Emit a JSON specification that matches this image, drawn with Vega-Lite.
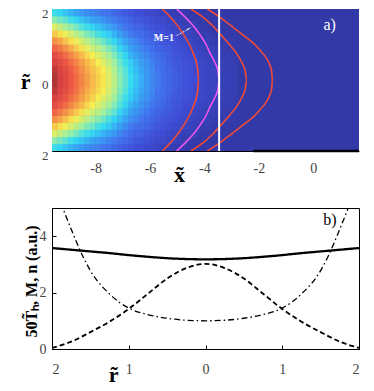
{
  "$schema": "https://vega.github.io/schema/vega-lite/v6.json",
  "padding": {"left": 20, "top": 7, "right": 5, "bottom": 5},
  "background": "white",
  "config": {"font": "Liberation Serif", "axis": {"grid": false}},
  "datasets": {
    "heat": [
      {"x":-9.5,"r":-1.9,"v":0.41},{"x":-9.5,"r":-1.7,"v":0.48},{"x":-9.5,"r":-1.5,"v":0.57},{"x":-9.5,"r":-1.3,"v":0.65},{"x":-9.5,"r":-1.1,"v":0.73},{"x":-9.5,"r":-0.9,"v":0.80},{"x":-9.5,"r":-0.7,"v":0.87},{"x":-9.5,"r":-0.5,"v":0.92},{"x":-9.5,"r":-0.3,"v":0.96},{"x":-9.5,"r":-0.1,"v":0.98},{"x":-9.5,"r":0.1,"v":0.98},{"x":-9.5,"r":0.3,"v":0.96},{"x":-9.5,"r":0.5,"v":0.92},{"x":-9.5,"r":0.7,"v":0.87},{"x":-9.5,"r":0.9,"v":0.80},{"x":-9.5,"r":1.1,"v":0.73},{"x":-9.5,"r":1.3,"v":0.65},{"x":-9.5,"r":1.5,"v":0.57},{"x":-9.5,"r":1.7,"v":0.48},{"x":-9.5,"r":1.9,"v":0.41},
      {"x":-9.3,"r":-1.9,"v":0.39},{"x":-9.3,"r":-1.7,"v":0.46},{"x":-9.3,"r":-1.5,"v":0.54},{"x":-9.3,"r":-1.3,"v":0.62},{"x":-9.3,"r":-1.1,"v":0.70},{"x":-9.3,"r":-0.9,"v":0.77},{"x":-9.3,"r":-0.7,"v":0.83},{"x":-9.3,"r":-0.5,"v":0.88},{"x":-9.3,"r":-0.3,"v":0.91},{"x":-9.3,"r":-0.1,"v":0.93},{"x":-9.3,"r":0.1,"v":0.93},{"x":-9.3,"r":0.3,"v":0.91},{"x":-9.3,"r":0.5,"v":0.88},{"x":-9.3,"r":0.7,"v":0.83},{"x":-9.3,"r":0.9,"v":0.77},{"x":-9.3,"r":1.1,"v":0.70},{"x":-9.3,"r":1.3,"v":0.62},{"x":-9.3,"r":1.5,"v":0.54},{"x":-9.3,"r":1.7,"v":0.46},{"x":-9.3,"r":1.9,"v":0.39},
      {"x":-9.1,"r":-1.9,"v":0.37},{"x":-9.1,"r":-1.7,"v":0.44},{"x":-9.1,"r":-1.5,"v":0.51},{"x":-9.1,"r":-1.3,"v":0.59},{"x":-9.1,"r":-1.1,"v":0.66},{"x":-9.1,"r":-0.9,"v":0.73},{"x":-9.1,"r":-0.7,"v":0.79},{"x":-9.1,"r":-0.5,"v":0.84},{"x":-9.1,"r":-0.3,"v":0.87},{"x":-9.1,"r":-0.1,"v":0.89},{"x":-9.1,"r":0.1,"v":0.89},{"x":-9.1,"r":0.3,"v":0.87},{"x":-9.1,"r":0.5,"v":0.84},{"x":-9.1,"r":0.7,"v":0.79},{"x":-9.1,"r":0.9,"v":0.73},{"x":-9.1,"r":1.1,"v":0.66},{"x":-9.1,"r":1.3,"v":0.59},{"x":-9.1,"r":1.5,"v":0.51},{"x":-9.1,"r":1.7,"v":0.44},{"x":-9.1,"r":1.9,"v":0.37},
      {"x":-8.9,"r":-1.9,"v":0.35},{"x":-8.9,"r":-1.7,"v":0.41},{"x":-8.9,"r":-1.5,"v":0.49},{"x":-8.9,"r":-1.3,"v":0.56},{"x":-8.9,"r":-1.1,"v":0.62},{"x":-8.9,"r":-0.9,"v":0.69},{"x":-8.9,"r":-0.7,"v":0.75},{"x":-8.9,"r":-0.5,"v":0.79},{"x":-8.9,"r":-0.3,"v":0.82},{"x":-8.9,"r":-0.1,"v":0.84},{"x":-8.9,"r":0.1,"v":0.84},{"x":-8.9,"r":0.3,"v":0.82},{"x":-8.9,"r":0.5,"v":0.79},{"x":-8.9,"r":0.7,"v":0.75},{"x":-8.9,"r":0.9,"v":0.69},{"x":-8.9,"r":1.1,"v":0.62},{"x":-8.9,"r":1.3,"v":0.56},{"x":-8.9,"r":1.5,"v":0.49},{"x":-8.9,"r":1.7,"v":0.41},{"x":-8.9,"r":1.9,"v":0.35},
      {"x":-8.7,"r":-1.9,"v":0.33},{"x":-8.7,"r":-1.7,"v":0.39},{"x":-8.7,"r":-1.5,"v":0.46},{"x":-8.7,"r":-1.3,"v":0.53},{"x":-8.7,"r":-1.1,"v":0.59},{"x":-8.7,"r":-0.9,"v":0.65},{"x":-8.7,"r":-0.7,"v":0.71},{"x":-8.7,"r":-0.5,"v":0.75},{"x":-8.7,"r":-0.3,"v":0.78},{"x":-8.7,"r":-0.1,"v":0.79},{"x":-8.7,"r":0.1,"v":0.79},{"x":-8.7,"r":0.3,"v":0.78},{"x":-8.7,"r":0.5,"v":0.75},{"x":-8.7,"r":0.7,"v":0.71},{"x":-8.7,"r":0.9,"v":0.65},{"x":-8.7,"r":1.1,"v":0.59},{"x":-8.7,"r":1.3,"v":0.53},{"x":-8.7,"r":1.5,"v":0.46},{"x":-8.7,"r":1.7,"v":0.39},{"x":-8.7,"r":1.9,"v":0.33},
      {"x":-8.5,"r":-1.9,"v":0.31},{"x":-8.5,"r":-1.7,"v":0.37},{"x":-8.5,"r":-1.5,"v":0.43},{"x":-8.5,"r":-1.3,"v":0.50},{"x":-8.5,"r":-1.1,"v":0.56},{"x":-8.5,"r":-0.9,"v":0.62},{"x":-8.5,"r":-0.7,"v":0.67},{"x":-8.5,"r":-0.5,"v":0.71},{"x":-8.5,"r":-0.3,"v":0.73},{"x":-8.5,"r":-0.1,"v":0.75},{"x":-8.5,"r":0.1,"v":0.75},{"x":-8.5,"r":0.3,"v":0.73},{"x":-8.5,"r":0.5,"v":0.71},{"x":-8.5,"r":0.7,"v":0.67},{"x":-8.5,"r":0.9,"v":0.62},{"x":-8.5,"r":1.1,"v":0.56},{"x":-8.5,"r":1.3,"v":0.50},{"x":-8.5,"r":1.5,"v":0.43},{"x":-8.5,"r":1.7,"v":0.37},{"x":-8.5,"r":1.9,"v":0.31},
      {"x":-8.3,"r":-1.9,"v":0.29},{"x":-8.3,"r":-1.7,"v":0.35},{"x":-8.3,"r":-1.5,"v":0.41},{"x":-8.3,"r":-1.3,"v":0.47},{"x":-8.3,"r":-1.1,"v":0.53},{"x":-8.3,"r":-0.9,"v":0.58},{"x":-8.3,"r":-0.7,"v":0.63},{"x":-8.3,"r":-0.5,"v":0.67},{"x":-8.3,"r":-0.3,"v":0.69},{"x":-8.3,"r":-0.1,"v":0.71},{"x":-8.3,"r":0.1,"v":0.71},{"x":-8.3,"r":0.3,"v":0.69},{"x":-8.3,"r":0.5,"v":0.67},{"x":-8.3,"r":0.7,"v":0.63},{"x":-8.3,"r":0.9,"v":0.58},{"x":-8.3,"r":1.1,"v":0.53},{"x":-8.3,"r":1.3,"v":0.47},{"x":-8.3,"r":1.5,"v":0.41},{"x":-8.3,"r":1.7,"v":0.35},{"x":-8.3,"r":1.9,"v":0.29},
      {"x":-8.1,"r":-1.9,"v":0.28},{"x":-8.1,"r":-1.7,"v":0.33},{"x":-8.1,"r":-1.5,"v":0.39},{"x":-8.1,"r":-1.3,"v":0.45},{"x":-8.1,"r":-1.1,"v":0.50},{"x":-8.1,"r":-0.9,"v":0.55},{"x":-8.1,"r":-0.7,"v":0.60},{"x":-8.1,"r":-0.5,"v":0.64},{"x":-8.1,"r":-0.3,"v":0.66},{"x":-8.1,"r":-0.1,"v":0.67},{"x":-8.1,"r":0.1,"v":0.67},{"x":-8.1,"r":0.3,"v":0.66},{"x":-8.1,"r":0.5,"v":0.64},{"x":-8.1,"r":0.7,"v":0.60},{"x":-8.1,"r":0.9,"v":0.55},{"x":-8.1,"r":1.1,"v":0.50},{"x":-8.1,"r":1.3,"v":0.45},{"x":-8.1,"r":1.5,"v":0.39},{"x":-8.1,"r":1.7,"v":0.33},{"x":-8.1,"r":1.9,"v":0.28},
      {"x":-7.9,"r":-1.9,"v":0.27},{"x":-7.9,"r":-1.7,"v":0.32},{"x":-7.9,"r":-1.5,"v":0.37},{"x":-7.9,"r":-1.3,"v":0.42},{"x":-7.9,"r":-1.1,"v":0.48},{"x":-7.9,"r":-0.9,"v":0.53},{"x":-7.9,"r":-0.7,"v":0.57},{"x":-7.9,"r":-0.5,"v":0.60},{"x":-7.9,"r":-0.3,"v":0.63},{"x":-7.9,"r":-0.1,"v":0.64},{"x":-7.9,"r":0.1,"v":0.64},{"x":-7.9,"r":0.3,"v":0.63},{"x":-7.9,"r":0.5,"v":0.60},{"x":-7.9,"r":0.7,"v":0.57},{"x":-7.9,"r":0.9,"v":0.53},{"x":-7.9,"r":1.1,"v":0.48},{"x":-7.9,"r":1.3,"v":0.42},{"x":-7.9,"r":1.5,"v":0.37},{"x":-7.9,"r":1.7,"v":0.32},{"x":-7.9,"r":1.9,"v":0.27},
      {"x":-7.7,"r":-1.9,"v":0.25},{"x":-7.7,"r":-1.7,"v":0.30},{"x":-7.7,"r":-1.5,"v":0.35},{"x":-7.7,"r":-1.3,"v":0.40},{"x":-7.7,"r":-1.1,"v":0.45},{"x":-7.7,"r":-0.9,"v":0.50},{"x":-7.7,"r":-0.7,"v":0.54},{"x":-7.7,"r":-0.5,"v":0.57},{"x":-7.7,"r":-0.3,"v":0.60},{"x":-7.7,"r":-0.1,"v":0.61},{"x":-7.7,"r":0.1,"v":0.61},{"x":-7.7,"r":0.3,"v":0.60},{"x":-7.7,"r":0.5,"v":0.57},{"x":-7.7,"r":0.7,"v":0.54},{"x":-7.7,"r":0.9,"v":0.50},{"x":-7.7,"r":1.1,"v":0.45},{"x":-7.7,"r":1.3,"v":0.40},{"x":-7.7,"r":1.5,"v":0.35},{"x":-7.7,"r":1.7,"v":0.30},{"x":-7.7,"r":1.9,"v":0.25},
      {"x":-7.5,"r":-1.9,"v":0.24},{"x":-7.5,"r":-1.7,"v":0.28},{"x":-7.5,"r":-1.5,"v":0.33},{"x":-7.5,"r":-1.3,"v":0.38},{"x":-7.5,"r":-1.1,"v":0.42},{"x":-7.5,"r":-0.9,"v":0.47},{"x":-7.5,"r":-0.7,"v":0.51},{"x":-7.5,"r":-0.5,"v":0.54},{"x":-7.5,"r":-0.3,"v":0.56},{"x":-7.5,"r":-0.1,"v":0.57},{"x":-7.5,"r":0.1,"v":0.57},{"x":-7.5,"r":0.3,"v":0.56},{"x":-7.5,"r":0.5,"v":0.54},{"x":-7.5,"r":0.7,"v":0.51},{"x":-7.5,"r":0.9,"v":0.47},{"x":-7.5,"r":1.1,"v":0.42},{"x":-7.5,"r":1.3,"v":0.38},{"x":-7.5,"r":1.5,"v":0.33},{"x":-7.5,"r":1.7,"v":0.28},{"x":-7.5,"r":1.9,"v":0.24},
      {"x":-7.3,"r":-1.9,"v":0.22},{"x":-7.3,"r":-1.7,"v":0.26},{"x":-7.3,"r":-1.5,"v":0.31},{"x":-7.3,"r":-1.3,"v":0.35},{"x":-7.3,"r":-1.1,"v":0.39},{"x":-7.3,"r":-0.9,"v":0.44},{"x":-7.3,"r":-0.7,"v":0.47},{"x":-7.3,"r":-0.5,"v":0.50},{"x":-7.3,"r":-0.3,"v":0.52},{"x":-7.3,"r":-0.1,"v":0.53},{"x":-7.3,"r":0.1,"v":0.53},{"x":-7.3,"r":0.3,"v":0.52},{"x":-7.3,"r":0.5,"v":0.50},{"x":-7.3,"r":0.7,"v":0.47},{"x":-7.3,"r":0.9,"v":0.44},{"x":-7.3,"r":1.1,"v":0.39},{"x":-7.3,"r":1.3,"v":0.35},{"x":-7.3,"r":1.5,"v":0.31},{"x":-7.3,"r":1.7,"v":0.26},{"x":-7.3,"r":1.9,"v":0.22},
      {"x":-7.1,"r":-1.9,"v":0.20},{"x":-7.1,"r":-1.7,"v":0.24},{"x":-7.1,"r":-1.5,"v":0.28},{"x":-7.1,"r":-1.3,"v":0.32},{"x":-7.1,"r":-1.1,"v":0.36},{"x":-7.1,"r":-0.9,"v":0.39},{"x":-7.1,"r":-0.7,"v":0.43},{"x":-7.1,"r":-0.5,"v":0.45},{"x":-7.1,"r":-0.3,"v":0.47},{"x":-7.1,"r":-0.1,"v":0.48},{"x":-7.1,"r":0.1,"v":0.48},{"x":-7.1,"r":0.3,"v":0.47},{"x":-7.1,"r":0.5,"v":0.45},{"x":-7.1,"r":0.7,"v":0.43},{"x":-7.1,"r":0.9,"v":0.39},{"x":-7.1,"r":1.1,"v":0.36},{"x":-7.1,"r":1.3,"v":0.32},{"x":-7.1,"r":1.5,"v":0.28},{"x":-7.1,"r":1.7,"v":0.24},{"x":-7.1,"r":1.9,"v":0.20},
      {"x":-6.9,"r":-1.9,"v":0.18},{"x":-6.9,"r":-1.7,"v":0.22},{"x":-6.9,"r":-1.5,"v":0.25},{"x":-6.9,"r":-1.3,"v":0.29},{"x":-6.9,"r":-1.1,"v":0.33},{"x":-6.9,"r":-0.9,"v":0.36},{"x":-6.9,"r":-0.7,"v":0.39},{"x":-6.9,"r":-0.5,"v":0.41},{"x":-6.9,"r":-0.3,"v":0.43},{"x":-6.9,"r":-0.1,"v":0.44},{"x":-6.9,"r":0.1,"v":0.44},{"x":-6.9,"r":0.3,"v":0.43},{"x":-6.9,"r":0.5,"v":0.41},{"x":-6.9,"r":0.7,"v":0.39},{"x":-6.9,"r":0.9,"v":0.36},{"x":-6.9,"r":1.1,"v":0.33},{"x":-6.9,"r":1.3,"v":0.29},{"x":-6.9,"r":1.5,"v":0.25},{"x":-6.9,"r":1.7,"v":0.22},{"x":-6.9,"r":1.9,"v":0.18},
      {"x":-6.7,"r":-1.9,"v":0.17},{"x":-6.7,"r":-1.7,"v":0.20},{"x":-6.7,"r":-1.5,"v":0.23},{"x":-6.7,"r":-1.3,"v":0.26},{"x":-6.7,"r":-1.1,"v":0.30},{"x":-6.7,"r":-0.9,"v":0.33},{"x":-6.7,"r":-0.7,"v":0.35},{"x":-6.7,"r":-0.5,"v":0.38},{"x":-6.7,"r":-0.3,"v":0.39},{"x":-6.7,"r":-0.1,"v":0.40},{"x":-6.7,"r":0.1,"v":0.40},{"x":-6.7,"r":0.3,"v":0.39},{"x":-6.7,"r":0.5,"v":0.38},{"x":-6.7,"r":0.7,"v":0.35},{"x":-6.7,"r":0.9,"v":0.33},{"x":-6.7,"r":1.1,"v":0.30},{"x":-6.7,"r":1.3,"v":0.26},{"x":-6.7,"r":1.5,"v":0.23},{"x":-6.7,"r":1.7,"v":0.20},{"x":-6.7,"r":1.9,"v":0.17},
      {"x":-6.5,"r":-1.9,"v":0.15},{"x":-6.5,"r":-1.7,"v":0.18},{"x":-6.5,"r":-1.5,"v":0.21},{"x":-6.5,"r":-1.3,"v":0.24},{"x":-6.5,"r":-1.1,"v":0.28},{"x":-6.5,"r":-0.9,"v":0.30},{"x":-6.5,"r":-0.7,"v":0.33},{"x":-6.5,"r":-0.5,"v":0.35},{"x":-6.5,"r":-0.3,"v":0.36},{"x":-6.5,"r":-0.1,"v":0.37},{"x":-6.5,"r":0.1,"v":0.37},{"x":-6.5,"r":0.3,"v":0.36},{"x":-6.5,"r":0.5,"v":0.35},{"x":-6.5,"r":0.7,"v":0.33},{"x":-6.5,"r":0.9,"v":0.30},{"x":-6.5,"r":1.1,"v":0.28},{"x":-6.5,"r":1.3,"v":0.24},{"x":-6.5,"r":1.5,"v":0.21},{"x":-6.5,"r":1.7,"v":0.18},{"x":-6.5,"r":1.9,"v":0.15},
      {"x":-6.3,"r":-1.9,"v":0.14},{"x":-6.3,"r":-1.7,"v":0.17},{"x":-6.3,"r":-1.5,"v":0.20},{"x":-6.3,"r":-1.3,"v":0.23},{"x":-6.3,"r":-1.1,"v":0.25},{"x":-6.3,"r":-0.9,"v":0.28},{"x":-6.3,"r":-0.7,"v":0.30},{"x":-6.3,"r":-0.5,"v":0.32},{"x":-6.3,"r":-0.3,"v":0.33},{"x":-6.3,"r":-0.1,"v":0.34},{"x":-6.3,"r":0.1,"v":0.34},{"x":-6.3,"r":0.3,"v":0.33},{"x":-6.3,"r":0.5,"v":0.32},{"x":-6.3,"r":0.7,"v":0.30},{"x":-6.3,"r":0.9,"v":0.28},{"x":-6.3,"r":1.1,"v":0.25},{"x":-6.3,"r":1.3,"v":0.23},{"x":-6.3,"r":1.5,"v":0.20},{"x":-6.3,"r":1.7,"v":0.17},{"x":-6.3,"r":1.9,"v":0.14},
      {"x":-6.1,"r":-1.9,"v":0.13},{"x":-6.1,"r":-1.7,"v":0.16},{"x":-6.1,"r":-1.5,"v":0.18},{"x":-6.1,"r":-1.3,"v":0.21},{"x":-6.1,"r":-1.1,"v":0.23},{"x":-6.1,"r":-0.9,"v":0.26},{"x":-6.1,"r":-0.7,"v":0.28},{"x":-6.1,"r":-0.5,"v":0.30},{"x":-6.1,"r":-0.3,"v":0.31},{"x":-6.1,"r":-0.1,"v":0.31},{"x":-6.1,"r":0.1,"v":0.31},{"x":-6.1,"r":0.3,"v":0.31},{"x":-6.1,"r":0.5,"v":0.30},{"x":-6.1,"r":0.7,"v":0.28},{"x":-6.1,"r":0.9,"v":0.26},{"x":-6.1,"r":1.1,"v":0.23},{"x":-6.1,"r":1.3,"v":0.21},{"x":-6.1,"r":1.5,"v":0.18},{"x":-6.1,"r":1.7,"v":0.16},{"x":-6.1,"r":1.9,"v":0.13},
      {"x":-5.9,"r":-1.9,"v":0.12},{"x":-5.9,"r":-1.7,"v":0.14},{"x":-5.9,"r":-1.5,"v":0.16},{"x":-5.9,"r":-1.3,"v":0.19},{"x":-5.9,"r":-1.1,"v":0.21},{"x":-5.9,"r":-0.9,"v":0.23},{"x":-5.9,"r":-0.7,"v":0.25},{"x":-5.9,"r":-0.5,"v":0.27},{"x":-5.9,"r":-0.3,"v":0.28},{"x":-5.9,"r":-0.1,"v":0.28},{"x":-5.9,"r":0.1,"v":0.28},{"x":-5.9,"r":0.3,"v":0.28},{"x":-5.9,"r":0.5,"v":0.27},{"x":-5.9,"r":0.7,"v":0.25},{"x":-5.9,"r":0.9,"v":0.23},{"x":-5.9,"r":1.1,"v":0.21},{"x":-5.9,"r":1.3,"v":0.19},{"x":-5.9,"r":1.5,"v":0.16},{"x":-5.9,"r":1.7,"v":0.14},{"x":-5.9,"r":1.9,"v":0.12},
      {"x":-5.7,"r":-1.9,"v":0.11},{"x":-5.7,"r":-1.7,"v":0.13},{"x":-5.7,"r":-1.5,"v":0.15},{"x":-5.7,"r":-1.3,"v":0.17},{"x":-5.7,"r":-1.1,"v":0.19},{"x":-5.7,"r":-0.9,"v":0.21},{"x":-5.7,"r":-0.7,"v":0.23},{"x":-5.7,"r":-0.5,"v":0.24},{"x":-5.7,"r":-0.3,"v":0.25},{"x":-5.7,"r":-0.1,"v":0.26},{"x":-5.7,"r":0.1,"v":0.26},{"x":-5.7,"r":0.3,"v":0.25},{"x":-5.7,"r":0.5,"v":0.24},{"x":-5.7,"r":0.7,"v":0.23},{"x":-5.7,"r":0.9,"v":0.21},{"x":-5.7,"r":1.1,"v":0.19},{"x":-5.7,"r":1.3,"v":0.17},{"x":-5.7,"r":1.5,"v":0.15},{"x":-5.7,"r":1.7,"v":0.13},{"x":-5.7,"r":1.9,"v":0.11},
      {"x":-5.5,"r":-1.9,"v":0.10},{"x":-5.5,"r":-1.7,"v":0.12},{"x":-5.5,"r":-1.5,"v":0.14},{"x":-5.5,"r":-1.3,"v":0.16},{"x":-5.5,"r":-1.1,"v":0.17},{"x":-5.5,"r":-0.9,"v":0.19},{"x":-5.5,"r":-0.7,"v":0.21},{"x":-5.5,"r":-0.5,"v":0.22},{"x":-5.5,"r":-0.3,"v":0.23},{"x":-5.5,"r":-0.1,"v":0.23},{"x":-5.5,"r":0.1,"v":0.23},{"x":-5.5,"r":0.3,"v":0.23},{"x":-5.5,"r":0.5,"v":0.22},{"x":-5.5,"r":0.7,"v":0.21},{"x":-5.5,"r":0.9,"v":0.19},{"x":-5.5,"r":1.1,"v":0.17},{"x":-5.5,"r":1.3,"v":0.16},{"x":-5.5,"r":1.5,"v":0.14},{"x":-5.5,"r":1.7,"v":0.12},{"x":-5.5,"r":1.9,"v":0.10},
      {"x":-5.3,"r":-1.9,"v":0.09},{"x":-5.3,"r":-1.7,"v":0.11},{"x":-5.3,"r":-1.5,"v":0.12},{"x":-5.3,"r":-1.3,"v":0.14},{"x":-5.3,"r":-1.1,"v":0.16},{"x":-5.3,"r":-0.9,"v":0.18},{"x":-5.3,"r":-0.7,"v":0.19},{"x":-5.3,"r":-0.5,"v":0.20},{"x":-5.3,"r":-0.3,"v":0.21},{"x":-5.3,"r":-0.1,"v":0.21},{"x":-5.3,"r":0.1,"v":0.21},{"x":-5.3,"r":0.3,"v":0.21},{"x":-5.3,"r":0.5,"v":0.20},{"x":-5.3,"r":0.7,"v":0.19},{"x":-5.3,"r":0.9,"v":0.18},{"x":-5.3,"r":1.1,"v":0.16},{"x":-5.3,"r":1.3,"v":0.14},{"x":-5.3,"r":1.5,"v":0.12},{"x":-5.3,"r":1.7,"v":0.11},{"x":-5.3,"r":1.9,"v":0.09},
      {"x":-5.1,"r":-1.9,"v":0.08},{"x":-5.1,"r":-1.7,"v":0.10},{"x":-5.1,"r":-1.5,"v":0.11},{"x":-5.1,"r":-1.3,"v":0.13},{"x":-5.1,"r":-1.1,"v":0.15},{"x":-5.1,"r":-0.9,"v":0.16},{"x":-5.1,"r":-0.7,"v":0.17},{"x":-5.1,"r":-0.5,"v":0.18},{"x":-5.1,"r":-0.3,"v":0.19},{"x":-5.1,"r":-0.1,"v":0.19},{"x":-5.1,"r":0.1,"v":0.19},{"x":-5.1,"r":0.3,"v":0.19},{"x":-5.1,"r":0.5,"v":0.18},{"x":-5.1,"r":0.7,"v":0.17},{"x":-5.1,"r":0.9,"v":0.16},{"x":-5.1,"r":1.1,"v":0.15},{"x":-5.1,"r":1.3,"v":0.13},{"x":-5.1,"r":1.5,"v":0.11},{"x":-5.1,"r":1.7,"v":0.10},{"x":-5.1,"r":1.9,"v":0.08},
      {"x":-4.9,"r":-1.9,"v":0.07},{"x":-4.9,"r":-1.7,"v":0.09},{"x":-4.9,"r":-1.5,"v":0.10},{"x":-4.9,"r":-1.3,"v":0.12},{"x":-4.9,"r":-1.1,"v":0.13},{"x":-4.9,"r":-0.9,"v":0.15},{"x":-4.9,"r":-0.7,"v":0.16},{"x":-4.9,"r":-0.5,"v":0.17},{"x":-4.9,"r":-0.3,"v":0.17},{"x":-4.9,"r":-0.1,"v":0.18},{"x":-4.9,"r":0.1,"v":0.18},{"x":-4.9,"r":0.3,"v":0.17},{"x":-4.9,"r":0.5,"v":0.17},{"x":-4.9,"r":0.7,"v":0.16},{"x":-4.9,"r":0.9,"v":0.15},{"x":-4.9,"r":1.1,"v":0.13},{"x":-4.9,"r":1.3,"v":0.12},{"x":-4.9,"r":1.5,"v":0.10},{"x":-4.9,"r":1.7,"v":0.09},{"x":-4.9,"r":1.9,"v":0.07},
      {"x":-4.7,"r":-1.9,"v":0.07},{"x":-4.7,"r":-1.7,"v":0.08},{"x":-4.7,"r":-1.5,"v":0.09},{"x":-4.7,"r":-1.3,"v":0.11},{"x":-4.7,"r":-1.1,"v":0.12},{"x":-4.7,"r":-0.9,"v":0.13},{"x":-4.7,"r":-0.7,"v":0.14},{"x":-4.7,"r":-0.5,"v":0.15},{"x":-4.7,"r":-0.3,"v":0.16},{"x":-4.7,"r":-0.1,"v":0.16},{"x":-4.7,"r":0.1,"v":0.16},{"x":-4.7,"r":0.3,"v":0.16},{"x":-4.7,"r":0.5,"v":0.15},{"x":-4.7,"r":0.7,"v":0.14},{"x":-4.7,"r":0.9,"v":0.13},{"x":-4.7,"r":1.1,"v":0.12},{"x":-4.7,"r":1.3,"v":0.11},{"x":-4.7,"r":1.5,"v":0.09},{"x":-4.7,"r":1.7,"v":0.08},{"x":-4.7,"r":1.9,"v":0.07},
      {"x":-4.5,"r":-1.9,"v":0.06},{"x":-4.5,"r":-1.7,"v":0.07},{"x":-4.5,"r":-1.5,"v":0.09},{"x":-4.5,"r":-1.3,"v":0.10},{"x":-4.5,"r":-1.1,"v":0.11},{"x":-4.5,"r":-0.9,"v":0.12},{"x":-4.5,"r":-0.7,"v":0.13},{"x":-4.5,"r":-0.5,"v":0.14},{"x":-4.5,"r":-0.3,"v":0.15},{"x":-4.5,"r":-0.1,"v":0.15},{"x":-4.5,"r":0.1,"v":0.15},{"x":-4.5,"r":0.3,"v":0.15},{"x":-4.5,"r":0.5,"v":0.14},{"x":-4.5,"r":0.7,"v":0.13},{"x":-4.5,"r":0.9,"v":0.12},{"x":-4.5,"r":1.1,"v":0.11},{"x":-4.5,"r":1.3,"v":0.10},{"x":-4.5,"r":1.5,"v":0.09},{"x":-4.5,"r":1.7,"v":0.07},{"x":-4.5,"r":1.9,"v":0.06},
      {"x":-4.3,"r":-1.9,"v":0.06},{"x":-4.3,"r":-1.7,"v":0.07},{"x":-4.3,"r":-1.5,"v":0.08},{"x":-4.3,"r":-1.3,"v":0.09},{"x":-4.3,"r":-1.1,"v":0.10},{"x":-4.3,"r":-0.9,"v":0.11},{"x":-4.3,"r":-0.7,"v":0.12},{"x":-4.3,"r":-0.5,"v":0.13},{"x":-4.3,"r":-0.3,"v":0.13},{"x":-4.3,"r":-0.1,"v":0.14},{"x":-4.3,"r":0.1,"v":0.14},{"x":-4.3,"r":0.3,"v":0.13},{"x":-4.3,"r":0.5,"v":0.13},{"x":-4.3,"r":0.7,"v":0.12},{"x":-4.3,"r":0.9,"v":0.11},{"x":-4.3,"r":1.1,"v":0.10},{"x":-4.3,"r":1.3,"v":0.09},{"x":-4.3,"r":1.5,"v":0.08},{"x":-4.3,"r":1.7,"v":0.07},{"x":-4.3,"r":1.9,"v":0.06},
      {"x":-4.1,"r":-1.9,"v":0.05},{"x":-4.1,"r":-1.7,"v":0.06},{"x":-4.1,"r":-1.5,"v":0.07},{"x":-4.1,"r":-1.3,"v":0.08},{"x":-4.1,"r":-1.1,"v":0.09},{"x":-4.1,"r":-0.9,"v":0.10},{"x":-4.1,"r":-0.7,"v":0.11},{"x":-4.1,"r":-0.5,"v":0.12},{"x":-4.1,"r":-0.3,"v":0.12},{"x":-4.1,"r":-0.1,"v":0.12},{"x":-4.1,"r":0.1,"v":0.12},{"x":-4.1,"r":0.3,"v":0.12},{"x":-4.1,"r":0.5,"v":0.12},{"x":-4.1,"r":0.7,"v":0.11},{"x":-4.1,"r":0.9,"v":0.10},{"x":-4.1,"r":1.1,"v":0.09},{"x":-4.1,"r":1.3,"v":0.08},{"x":-4.1,"r":1.5,"v":0.07},{"x":-4.1,"r":1.7,"v":0.06},{"x":-4.1,"r":1.9,"v":0.05},
      {"x":-3.9,"r":-1.9,"v":0.05},{"x":-3.9,"r":-1.7,"v":0.06},{"x":-3.9,"r":-1.5,"v":0.07},{"x":-3.9,"r":-1.3,"v":0.08},{"x":-3.9,"r":-1.1,"v":0.09},{"x":-3.9,"r":-0.9,"v":0.09},{"x":-3.9,"r":-0.7,"v":0.10},{"x":-3.9,"r":-0.5,"v":0.11},{"x":-3.9,"r":-0.3,"v":0.11},{"x":-3.9,"r":-0.1,"v":0.11},{"x":-3.9,"r":0.1,"v":0.11},{"x":-3.9,"r":0.3,"v":0.11},{"x":-3.9,"r":0.5,"v":0.11},{"x":-3.9,"r":0.7,"v":0.10},{"x":-3.9,"r":0.9,"v":0.09},{"x":-3.9,"r":1.1,"v":0.09},{"x":-3.9,"r":1.3,"v":0.08},{"x":-3.9,"r":1.5,"v":0.07},{"x":-3.9,"r":1.7,"v":0.06},{"x":-3.9,"r":1.9,"v":0.05},
      {"x":-3.7,"r":-1.9,"v":0.04},{"x":-3.7,"r":-1.7,"v":0.05},{"x":-3.7,"r":-1.5,"v":0.06},{"x":-3.7,"r":-1.3,"v":0.07},{"x":-3.7,"r":-1.1,"v":0.08},{"x":-3.7,"r":-0.9,"v":0.09},{"x":-3.7,"r":-0.7,"v":0.10},{"x":-3.7,"r":-0.5,"v":0.10},{"x":-3.7,"r":-0.3,"v":0.11},{"x":-3.7,"r":-0.1,"v":0.11},{"x":-3.7,"r":0.1,"v":0.11},{"x":-3.7,"r":0.3,"v":0.11},{"x":-3.7,"r":0.5,"v":0.10},{"x":-3.7,"r":0.7,"v":0.10},{"x":-3.7,"r":0.9,"v":0.09},{"x":-3.7,"r":1.1,"v":0.08},{"x":-3.7,"r":1.3,"v":0.07},{"x":-3.7,"r":1.5,"v":0.06},{"x":-3.7,"r":1.7,"v":0.05},{"x":-3.7,"r":1.9,"v":0.04},
      {"x":-3.5,"r":-1.9,"v":0.04},{"x":-3.5,"r":-1.7,"v":0.05},{"x":-3.5,"r":-1.5,"v":0.06},{"x":-3.5,"r":-1.3,"v":0.07},{"x":-3.5,"r":-1.1,"v":0.07},{"x":-3.5,"r":-0.9,"v":0.08},{"x":-3.5,"r":-0.7,"v":0.09},{"x":-3.5,"r":-0.5,"v":0.09},{"x":-3.5,"r":-0.3,"v":0.10},{"x":-3.5,"r":-0.1,"v":0.10},{"x":-3.5,"r":0.1,"v":0.10},{"x":-3.5,"r":0.3,"v":0.10},{"x":-3.5,"r":0.5,"v":0.09},{"x":-3.5,"r":0.7,"v":0.09},{"x":-3.5,"r":0.9,"v":0.08},{"x":-3.5,"r":1.1,"v":0.07},{"x":-3.5,"r":1.3,"v":0.07},{"x":-3.5,"r":1.5,"v":0.06},{"x":-3.5,"r":1.7,"v":0.05},{"x":-3.5,"r":1.9,"v":0.04},
      {"x":-3.3,"r":-1.9,"v":0.04},{"x":-3.3,"r":-1.7,"v":0.05},{"x":-3.3,"r":-1.5,"v":0.05},{"x":-3.3,"r":-1.3,"v":0.06},{"x":-3.3,"r":-1.1,"v":0.07},{"x":-3.3,"r":-0.9,"v":0.08},{"x":-3.3,"r":-0.7,"v":0.08},{"x":-3.3,"r":-0.5,"v":0.09},{"x":-3.3,"r":-0.3,"v":0.09},{"x":-3.3,"r":-0.1,"v":0.09},{"x":-3.3,"r":0.1,"v":0.09},{"x":-3.3,"r":0.3,"v":0.09},{"x":-3.3,"r":0.5,"v":0.09},{"x":-3.3,"r":0.7,"v":0.08},{"x":-3.3,"r":0.9,"v":0.08},{"x":-3.3,"r":1.1,"v":0.07},{"x":-3.3,"r":1.3,"v":0.06},{"x":-3.3,"r":1.5,"v":0.05},{"x":-3.3,"r":1.7,"v":0.05},{"x":-3.3,"r":1.9,"v":0.04},
      {"x":-3.1,"r":-1.9,"v":0.04},{"x":-3.1,"r":-1.7,"v":0.04},{"x":-3.1,"r":-1.5,"v":0.05},{"x":-3.1,"r":-1.3,"v":0.06},{"x":-3.1,"r":-1.1,"v":0.07},{"x":-3.1,"r":-0.9,"v":0.07},{"x":-3.1,"r":-0.7,"v":0.08},{"x":-3.1,"r":-0.5,"v":0.08},{"x":-3.1,"r":-0.3,"v":0.09},{"x":-3.1,"r":-0.1,"v":0.09},{"x":-3.1,"r":0.1,"v":0.09},{"x":-3.1,"r":0.3,"v":0.09},{"x":-3.1,"r":0.5,"v":0.08},{"x":-3.1,"r":0.7,"v":0.08},{"x":-3.1,"r":0.9,"v":0.07},{"x":-3.1,"r":1.1,"v":0.07},{"x":-3.1,"r":1.3,"v":0.06},{"x":-3.1,"r":1.5,"v":0.05},{"x":-3.1,"r":1.7,"v":0.04},{"x":-3.1,"r":1.9,"v":0.04},
      {"x":-2.9,"r":-1.9,"v":0.03},{"x":-2.9,"r":-1.7,"v":0.04},{"x":-2.9,"r":-1.5,"v":0.05},{"x":-2.9,"r":-1.3,"v":0.05},{"x":-2.9,"r":-1.1,"v":0.06},{"x":-2.9,"r":-0.9,"v":0.07},{"x":-2.9,"r":-0.7,"v":0.07},{"x":-2.9,"r":-0.5,"v":0.08},{"x":-2.9,"r":-0.3,"v":0.08},{"x":-2.9,"r":-0.1,"v":0.08},{"x":-2.9,"r":0.1,"v":0.08},{"x":-2.9,"r":0.3,"v":0.08},{"x":-2.9,"r":0.5,"v":0.08},{"x":-2.9,"r":0.7,"v":0.07},{"x":-2.9,"r":0.9,"v":0.07},{"x":-2.9,"r":1.1,"v":0.06},{"x":-2.9,"r":1.3,"v":0.05},{"x":-2.9,"r":1.5,"v":0.05},{"x":-2.9,"r":1.7,"v":0.04},{"x":-2.9,"r":1.9,"v":0.03}
    ],
    "cont": [
      {"c":"A","r":-2,"x":-5.54},{"c":"A","r":-1.75,"x":-5.23},{"c":"A","r":-1.5,"x":-4.96},{"c":"A","r":-1.25,"x":-4.74},{"c":"A","r":-1,"x":-4.55},{"c":"A","r":-0.75,"x":-4.41},{"c":"A","r":-0.5,"x":-4.30},{"c":"A","r":-0.25,"x":-4.24},{"c":"A","r":0,"x":-4.22},{"c":"A","r":0.25,"x":-4.24},{"c":"A","r":0.5,"x":-4.30},{"c":"A","r":0.75,"x":-4.41},{"c":"A","r":1,"x":-4.55},{"c":"A","r":1.25,"x":-4.74},{"c":"A","r":1.5,"x":-4.96},{"c":"A","r":1.75,"x":-5.23},{"c":"A","r":2,"x":-5.54},
      {"c":"B","r":-2,"x":-5.02},{"c":"B","r":-1.75,"x":-4.68},{"c":"B","r":-1.5,"x":-4.38},{"c":"B","r":-1.25,"x":-4.14},{"c":"B","r":-1,"x":-3.94},{"c":"B","r":-0.75,"x":-3.79},{"c":"B","r":-0.5,"x":-3.62},{"c":"B","r":-0.25,"x":-3.50},{"c":"B","r":0,"x":-3.46},{"c":"B","r":0.25,"x":-3.50},{"c":"B","r":0.5,"x":-3.62},{"c":"B","r":0.75,"x":-3.79},{"c":"B","r":1,"x":-3.94},{"c":"B","r":1.25,"x":-4.14},{"c":"B","r":1.5,"x":-4.38},{"c":"B","r":1.75,"x":-4.68},{"c":"B","r":2,"x":-5.02},
      {"c":"C","r":-2,"x":-4.50},{"c":"C","r":-1.75,"x":-4.02},{"c":"C","r":-1.5,"x":-3.66},{"c":"C","r":-1.25,"x":-3.37},{"c":"C","r":-1,"x":-3.08},{"c":"C","r":-0.75,"x":-2.82},{"c":"C","r":-0.5,"x":-2.63},{"c":"C","r":-0.25,"x":-2.50},{"c":"C","r":0,"x":-2.45},{"c":"C","r":0.25,"x":-2.50},{"c":"C","r":0.5,"x":-2.63},{"c":"C","r":0.75,"x":-2.82},{"c":"C","r":1,"x":-3.08},{"c":"C","r":1.25,"x":-3.37},{"c":"C","r":1.5,"x":-3.66},{"c":"C","r":1.75,"x":-4.02},{"c":"C","r":2,"x":-4.50},
      {"c":"D","r":-2,"x":-3.89},{"c":"D","r":-1.75,"x":-3.40},{"c":"D","r":-1.5,"x":-2.97},{"c":"D","r":-1.25,"x":-2.55},{"c":"D","r":-1,"x":-2.15},{"c":"D","r":-0.75,"x":-1.86},{"c":"D","r":-0.5,"x":-1.64},{"c":"D","r":-0.25,"x":-1.53},{"c":"D","r":0,"x":-1.50},{"c":"D","r":0.25,"x":-1.53},{"c":"D","r":0.5,"x":-1.64},{"c":"D","r":0.75,"x":-1.86},{"c":"D","r":1,"x":-2.15},{"c":"D","r":1.25,"x":-2.55},{"c":"D","r":1.5,"x":-2.97},{"c":"D","r":1.75,"x":-3.40},{"c":"D","r":2,"x":-3.89}
    ],
    "prof": [
      {"s":"T","r":-2,"v":3.58},{"s":"T","r":-1.75,"v":3.52},{"s":"T","r":-1.5,"v":3.46},{"s":"T","r":-1.25,"v":3.40},{"s":"T","r":-1,"v":3.33},{"s":"T","r":-0.75,"v":3.27},{"s":"T","r":-0.5,"v":3.22},{"s":"T","r":-0.25,"v":3.19},{"s":"T","r":0,"v":3.18},{"s":"T","r":0.25,"v":3.19},{"s":"T","r":0.5,"v":3.22},{"s":"T","r":0.75,"v":3.27},{"s":"T","r":1,"v":3.33},{"s":"T","r":1.25,"v":3.40},{"s":"T","r":1.5,"v":3.46},{"s":"T","r":1.75,"v":3.52},{"s":"T","r":2,"v":3.58},
      {"s":"M","r":-2,"v":0.04},{"s":"M","r":-1.75,"v":0.26},{"s":"M","r":-1.5,"v":0.60},{"s":"M","r":-1.25,"v":0.97},{"s":"M","r":-1,"v":1.42},{"s":"M","r":-0.75,"v":1.96},{"s":"M","r":-0.5,"v":2.50},{"s":"M","r":-0.25,"v":2.87},{"s":"M","r":0,"v":3.02},{"s":"M","r":0.25,"v":2.87},{"s":"M","r":0.5,"v":2.50},{"s":"M","r":0.75,"v":1.96},{"s":"M","r":1,"v":1.42},{"s":"M","r":1.25,"v":0.97},{"s":"M","r":1.5,"v":0.60},{"s":"M","r":1.75,"v":0.26},{"s":"M","r":2,"v":0.04},
      {"s":"n","r":-2,"v":6.1},{"s":"n","r":-1.9,"v":5.3},{"s":"n","r":-1.75,"v":4.25},{"s":"n","r":-1.6,"v":3.3},{"s":"n","r":-1.5,"v":2.78},{"s":"n","r":-1.25,"v":1.95},{"s":"n","r":-1,"v":1.45},{"s":"n","r":-0.75,"v":1.22},{"s":"n","r":-0.5,"v":1.09},{"s":"n","r":-0.25,"v":1.02},{"s":"n","r":0,"v":1.0},{"s":"n","r":0.25,"v":1.02},{"s":"n","r":0.5,"v":1.09},{"s":"n","r":0.75,"v":1.22},{"s":"n","r":1,"v":1.45},{"s":"n","r":1.25,"v":1.95},{"s":"n","r":1.5,"v":2.78},{"s":"n","r":1.6,"v":3.3},{"s":"n","r":1.75,"v":4.25},{"s":"n","r":1.9,"v":5.3},{"s":"n","r":2,"v":6.1}
    ]
  },
  "vconcat": [
    {
      "width": 307,
      "height": 142,
      "view": {"fill": "#3439a8", "stroke": null},
      "layer": [
        {
          "data": {"name": "heat"},
          "mark": {"type": "rect", "width": 5.9, "height": 7.6, "clip": true},
          "encoding": {
            "x": {"field": "x", "type": "quantitative", "scale": {"domain": [-9.6, 1.68], "nice": false, "zero": false},
              "axis": {"values": [-8, -6, -4, -2, 0], "ticks": false, "domainColor": "black", "domainWidth": 1,
                "labelExpr": "datum.value < 0 ? '-' + abs(datum.value) : '' + datum.value",
                "labelFont": "Liberation Serif", "labelFontSize": 14, "labelColor": "#444", "labelPadding": 10,
                "title": "x̃", "titleFont": "Liberation Serif", "titleFontSize": 22, "titleFontWeight": "bold", "titleColor": "black",
                "titleX": 127, "titleY": 30, "titleBaseline": "alphabetic", "titleAlign": "center"}},
            "y": {"field": "r", "type": "quantitative", "scale": {"domain": [-2, 2], "nice": false, "zero": false},
              "axis": {"values": [-2, 0, 2], "ticks": false, "domainColor": "black", "domainWidth": 1,
                "labelExpr": "'' + abs(datum.value)", "labelOffset": 4,
                "labelFont": "Liberation Serif", "labelFontSize": 13, "labelColor": "#444", "labelPadding": 4,
                "title": "r̃", "titleFont": "Liberation Serif", "titleFontSize": 22, "titleFontWeight": "bold", "titleColor": "black",
                "titleAngle": 0, "titleX": -27, "titleY": 79, "titleBaseline": "alphabetic", "titleAlign": "center"}},
            "color": {"field": "v", "type": "quantitative", "legend": null,
              "scale": {"domain": [0.06, 0.15, 0.25, 0.33, 0.40, 0.50, 0.60, 0.70, 0.82, 0.93, 1.0],
                "range": ["#3439a8", "#3f4fd8", "#4275ee", "#38a4f4", "#35dcf2", "#a0f0a0", "#f7ee50", "#f7a448", "#ee5a45", "#d64040", "#a03030"],
                "clamp": true, "interpolate": "rgb"}}
          }
        },
        {
          "data": {"name": "cont"},
          "mark": {"type": "line", "interpolate": "monotone", "strokeWidth": 1.6, "clip": true},
          "encoding": {
            "x": {"field": "x", "type": "quantitative"},
            "y": {"field": "r", "type": "quantitative"},
            "order": {"field": "r", "type": "quantitative"},
            "detail": {"field": "c"},
            "color": {"field": "c", "type": "nominal", "legend": null,
              "scale": {"domain": ["A", "B", "C", "D"], "range": ["#f04a38", "#f055ee", "#f04a38", "#f04a38"]}}
          }
        },
        {
          "data": {"values": [{"x": -3.46}]},
          "mark": {"type": "rule", "color": "white", "strokeWidth": 2},
          "encoding": {"x": {"field": "x", "type": "quantitative"}}
        },
        {
          "data": {"values": [{"x": -2.2, "x2": 1.68, "r": -2}]},
          "mark": {"type": "rule", "color": "black", "strokeWidth": 2.5},
          "encoding": {"x": {"field": "x", "type": "quantitative"}, "x2": {"field": "x2"}, "y": {"field": "r", "type": "quantitative"}}
        },
        {
          "data": {"values": [{"x": -5.02, "x2": -4.6, "r": 1.25, "r2": 1.43}]},
          "mark": {"type": "rule", "color": "white", "strokeWidth": 1, "strokeDash": [2, 1.5]},
          "encoding": {"x": {"field": "x", "type": "quantitative"}, "x2": {"field": "x2"}, "y": {"field": "r", "type": "quantitative"}, "y2": {"field": "r2"}}
        },
        {
          "data": {"values": [{"x": -4.58, "r": 1.44}]},
          "mark": {"type": "point", "shape": "wedge", "size": 30, "angle": 60, "filled": true, "color": "white", "opacity": 1},
          "encoding": {"x": {"field": "x", "type": "quantitative"}, "y": {"field": "r", "type": "quantitative"}}
        },
        {
          "data": {"values": [{"x": -5.49, "r": 1.17, "t": "M=1"}]},
          "mark": {"type": "text", "color": "white", "font": "Liberation Serif", "fontSize": 10, "fontWeight": "bold", "baseline": "middle", "align": "center"},
          "encoding": {"x": {"field": "x", "type": "quantitative"}, "y": {"field": "r", "type": "quantitative"}, "text": {"field": "t"}}
        },
        {
          "data": {"values": [{"x": 0.6, "r": 1.54, "t": "a)"}]},
          "mark": {"type": "text", "color": "white", "font": "Liberation Serif", "fontSize": 16, "baseline": "middle", "align": "center"},
          "encoding": {"x": {"field": "x", "type": "quantitative"}, "y": {"field": "r", "type": "quantitative"}, "text": {"field": "t"}}
        }
      ]
    },
    {
      "width": 307,
      "height": 141,
      "view": {"stroke": "black", "strokeWidth": 1},
      "layer": [
        {
          "data": {"name": "prof"},
          "mark": {"type": "line", "interpolate": "monotone", "color": "black", "clip": true},
          "encoding": {
            "x": {"field": "r", "type": "quantitative", "scale": {"domain": [-2, 2], "nice": false},
              "axis": {"values": [-2, -1, 0, 1, 2], "tickSize": -4, "tickColor": "black", "domainColor": "black",
                "labelExpr": "'' + abs(datum.value)",
                "labelFont": "Liberation Serif", "labelFontSize": 14, "labelColor": "#444", "labelPadding": 17,
                "title": "r̃", "titleFont": "Liberation Serif", "titleFontSize": 22, "titleFontWeight": "bold", "titleColor": "black",
                "titleX": 61, "titleY": 32, "titleBaseline": "alphabetic", "titleAlign": "center"}},
            "y": {"field": "v", "type": "quantitative", "scale": {"domain": [0, 5], "nice": false},
              "axis": {"values": [0, 2, 4], "tickSize": -4, "tickColor": "black", "domainColor": "black",
                "labelFont": "Liberation Serif", "labelFontSize": 14, "labelColor": "#444", "labelPadding": 10,
                "title": "50T̃ₕ,  M, n (a.u.)", "titleFont": "Liberation Serif", "titleFontSize": 16, "titleFontWeight": "bold", "titleColor": "black",
                "titleAngle": -90, "titleX": -21, "titleY": 73, "titleBaseline": "middle", "titleAlign": "center"}},
            "detail": {"field": "s"},
            "strokeDash": {"field": "s", "type": "nominal", "legend": null,
              "scale": {"domain": ["T", "M", "n"], "range": [[1, 0], [5, 3], [6, 3, 1.5, 3]]}},
            "strokeWidth": {"field": "s", "type": "nominal", "legend": null,
              "scale": {"domain": ["T", "M", "n"], "range": [2.3, 1.3, 1]}}
          }
        },
        {
          "data": {"values": [{"x": 1.62, "y": 4.59, "t": "b)"}]},
          "mark": {"type": "text", "color": "black", "font": "Liberation Serif", "fontSize": 16, "baseline": "middle", "align": "center"},
          "encoding": {
            "x": {"field": "x", "type": "quantitative"},
            "y": {"field": "y", "type": "quantitative"},
            "text": {"field": "t"}
          }
        }
      ]
    }
  ],
  "spacing": 57,
  "bounds": "flush"
}
